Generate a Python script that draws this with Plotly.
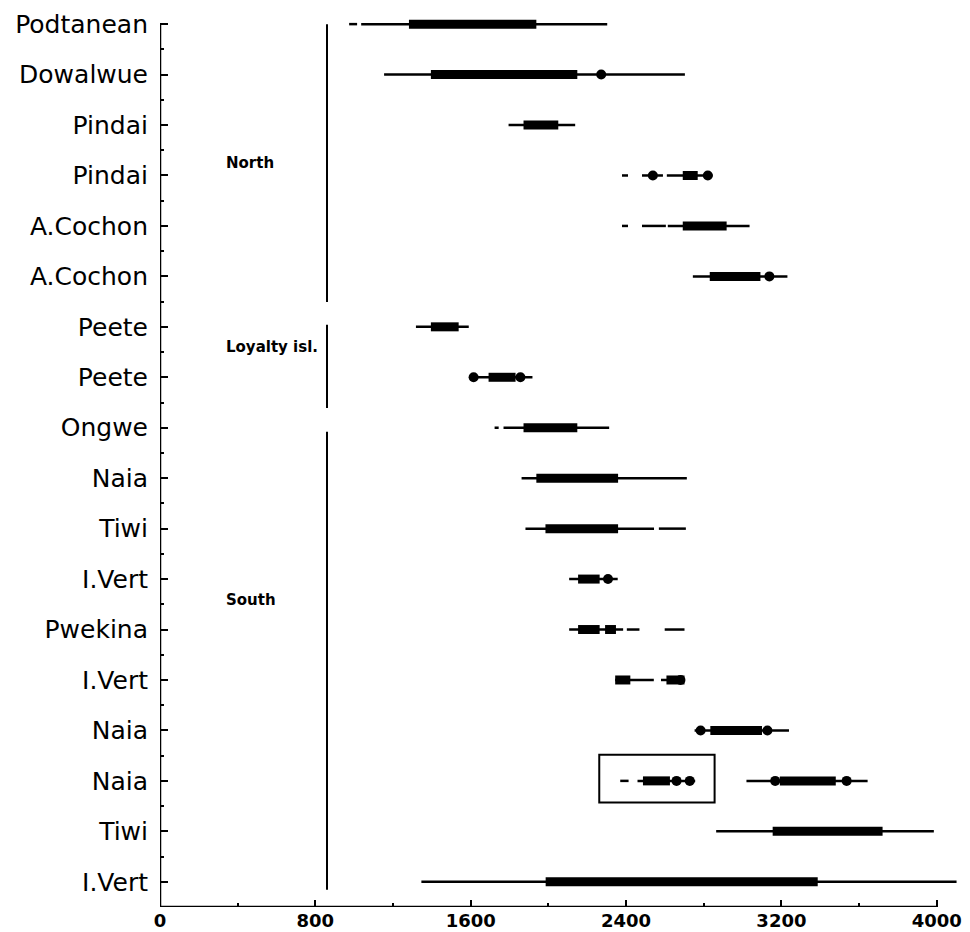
import plotly.graph_objects as go

# ---- data ----
ROW_LABELS = ["Podtanean", "Dowalwue", "Pindai", "Pindai", "A.Cochon", "A.Cochon",
              "Peete", "Peete", "Ongwe", "Naia", "Tiwi", "I.Vert", "Pwekina",
              "I.Vert", "Naia", "Naia", "Tiwi", "I.Vert"]

# thin (2-sigma) segments
THIN_ROW   = [0, 0, 1, 2, 3, 3, 3, 4, 4, 4, 5, 6, 7, 8, 8, 9, 10, 10, 11, 12, 12, 12, 13, 13, 14, 15, 15, 15, 16, 17]
THIN_START = [974, 1036, 1154, 1795, 2379, 2482, 2610, 2379, 2482, 2615, 2744, 1318, 1600, 1723, 1769, 1862,
              1882, 2569, 2107, 2107, 2404, 2599, 2344, 2580, 2753, 2370, 2459, 3020, 2864, 1346]
THIN_END   = [1015, 2303, 2703, 2138, 2410, 2590, 2846, 2410, 2605, 3036, 3231, 1590, 1918, 1744, 2313, 2713,
              2544, 2708, 2357, 2385, 2469, 2701, 2543, 2701, 3239, 2413, 2756, 3644, 3985, 4102]

# thick (1-sigma) segments
THICK_ROW   = [0, 1, 2, 3, 4, 5, 6, 7, 8, 9, 10, 11, 12, 12, 13, 13, 14, 15, 15, 16, 17]
THICK_START = [1282, 1395, 1872, 2692, 2692, 2831, 1395, 1692, 1872, 1938, 1985, 2153, 2153, 2292,
               2344, 2608, 2834, 2487, 3192, 3155, 1986]
THICK_END   = [1938, 2149, 2051, 2769, 2918, 3092, 1538, 1831, 2149, 2359, 2359, 2264, 2264, 2348,
               2422, 2701, 3100, 2626, 3480, 3721, 3387]

# probability peaks (dots)
DOT_ROW = [1, 3, 3, 5, 7, 7, 11, 13, 14, 14, 15, 15, 15, 15]
DOT_X   = [2272, 2538, 2821, 3138, 1615, 1856, 2307, 2680, 2784, 3128, 2660, 2728, 3168, 3536]

X_TICKS = [0, 800, 1600, 2400, 3200, 4000]
X_MINOR = [400, 1200, 2000, 2800, 3600]

GROUPS = ["North", "Loyalty isl.", "South"]
GROUP_LABEL_X = [329, 329, 329]
GROUP_LABEL_Y = [2.75, 6.4, 11.41]
GROUP_LINE_X = 860
GROUP_LINE_Y0 = [0.0, 5.96, 8.08]
GROUP_LINE_Y1 = [5.51, 7.61, 17.16]

BOX_X = [2262, 2856]
BOX_Y = [14.48, 15.43]

# ---- figure ----
fig = go.Figure()

tx, ty = [], []
for r, s, e in zip(THIN_ROW, THIN_START, THIN_END):
    tx += [s, e, None]
    ty += [r, r, None]
fig.add_trace(go.Scatter(x=tx, y=ty, mode="lines", line=dict(color="black", width=2.5),
                         hoverinfo="skip", showlegend=False))

kx, ky = [], []
for r, s, e in zip(THICK_ROW, THICK_START, THICK_END):
    kx += [s, e, None]
    ky += [r, r, None]
fig.add_trace(go.Scatter(x=kx, y=ky, mode="lines", line=dict(color="black", width=9),
                         hoverinfo="skip", showlegend=False))

fig.add_trace(go.Scatter(x=DOT_X, y=DOT_ROW, mode="markers",
                         marker=dict(color="black", size=10, symbol="circle"),
                         hoverinfo="skip", showlegend=False))

shapes = []
# axis lines
shapes.append(dict(type="line", xref="x", yref="y", x0=0, x1=4000, y0=17.5, y1=17.5,
                   line=dict(color="black", width=2.5)))
shapes.append(dict(type="line", xref="x", yref="y", x0=0, x1=0, y0=0, y1=17.5,
                   line=dict(color="black", width=2.5)))
# group separator lines
for y0, y1 in zip(GROUP_LINE_Y0, GROUP_LINE_Y1):
    shapes.append(dict(type="line", xref="x", yref="y", x0=GROUP_LINE_X, x1=GROUP_LINE_X,
                       y0=y0, y1=y1, line=dict(color="black", width=2)))
# highlight box
shapes.append(dict(type="rect", xref="x", yref="y", x0=BOX_X[0], x1=BOX_X[1],
                   y0=BOX_Y[0], y1=BOX_Y[1], line=dict(color="black", width=2)))

annotations = []
for name, gx, gy in zip(GROUPS, GROUP_LABEL_X, GROUP_LABEL_Y):
    annotations.append(dict(x=gx, y=gy, xref="x", yref="y", text=name, showarrow=False,
                            xanchor="left", yanchor="middle",
                            font=dict(family="DejaVu Sans", size=15, color="black", weight="bold")))

fig.update_layout(
    width=962, height=924,
    margin=dict(l=152, r=8, t=1, b=25, autoexpand=False),
    paper_bgcolor="white", plot_bgcolor="white",
    shapes=shapes, annotations=annotations,
    xaxis=dict(range=[0, 4130], tickvals=X_TICKS, ticktext=[str(v) for v in X_TICKS],
               ticks="inside", ticklen=7, tickwidth=2, tickcolor="black",
               showline=False, showgrid=False, zeroline=False, automargin=False,
               ticklabelstandoff=1,
               tickfont=dict(family="DejaVu Sans", size=18, color="black", weight="bold"),
               minor=dict(tickvals=X_MINOR, ticks="inside", ticklen=4, tickwidth=2,
                          tickcolor="black", showgrid=False)),
    yaxis=dict(range=[17.5, -0.3], tickvals=list(range(len(ROW_LABELS))), ticktext=ROW_LABELS,
               ticks="inside", ticklen=8, tickwidth=2, tickcolor="black",
               showline=False, showgrid=False, zeroline=False, automargin=False,
               ticklabelstandoff=11,
               tickfont=dict(family="DejaVu Sans", size=25, color="black"),
               minor=dict(tickvals=[i + 0.5 for i in range(len(ROW_LABELS) - 1)],
                          ticks="inside", ticklen=4, tickwidth=2, tickcolor="black",
                          showgrid=False)),
)

fig.write_html("out.html")
